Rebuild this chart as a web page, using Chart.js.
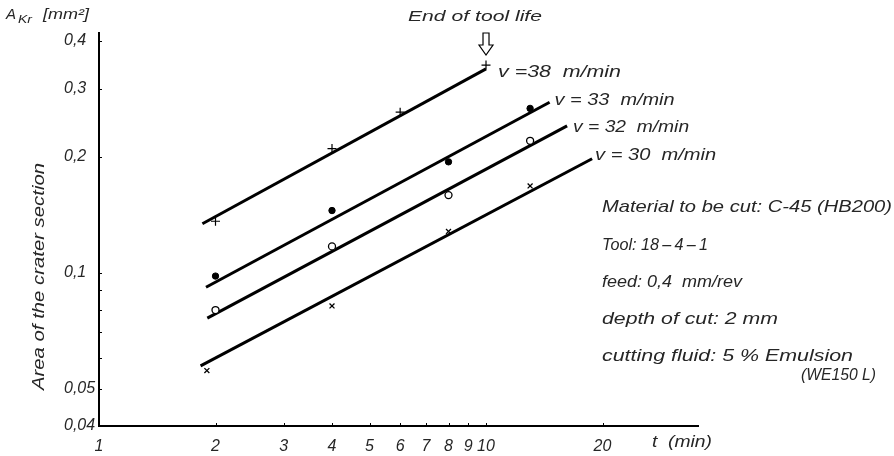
<!DOCTYPE html>
<html>
<head>
<meta charset="utf-8">
<script src="https://cdn.jsdelivr.net/npm/chart.js@4.4.1/dist/chart.umd.min.js"></script>
<style>
html,body{margin:0;padding:0;background:#fff;}
#wrap{width:894px;height:456px;}
</style>
</head>
<body>
<div id="wrap"><canvas id="c" width="894" height="456"></canvas></div>
<script>
// ---- data ----
const seriesLabels = ['v =38  m/min', 'v = 33  m/min', 'v = 32  m/min', 'v = 30  m/min'];
// measured points, t (min) and A_Kr (mm²)
const tPlus = [2, 4, 6, 10];
const aPlus = [0.136, 0.210, 0.261, 0.346];
const tDot = [2, 4, 8, 13];
const aDot = [0.098, 0.145, 0.194, 0.267];
const tCircle = [2, 4, 8, 13];
const aCircle = [0.080, 0.117, 0.159, 0.220];
const tCross = [1.9, 4, 8, 13];
const aCross = [0.0557, 0.082, 0.128, 0.168];
// fitted straight lines (start, end)
const tLine38 = [1.85, 10.0],  aLine38 = [0.134, 0.338];
const tLine33 = [1.89, 14.6],  aLine33 = [0.0917, 0.277];
const tLine32 = [1.905, 16.2], aLine32 = [0.0762, 0.2406];
const tLine30 = [1.83, 18.8],  aLine30 = [0.0573, 0.1976];
// ticks
const xTicks = [1, 2, 3, 4, 5, 6, 7, 8, 9, 10, 20];
const xTickLabels = ['1', '2', '3', '4', '5', '6', '7', '8', '9', '10', '20'];
const yTicks = [0.04, 0.05, 0.06, 0.07, 0.08, 0.09, 0.1, 0.2, 0.3, 0.4];
const yTickLabels = ['0,04', '0,05', '', '', '', '', '0,1', '0,2', '0,3', '0,4'];
const endOfLifeT = 10;
const endOfLifeA = 0.346;
const notes = ['Material to be cut: C-45 (HB200)', 'Tool: 18\u2009–\u20094\u2009–\u20091', 'feed: 0,4  mm/rev', 'depth of cut: 2 mm', 'cutting fluid: 5 % Emulsion', '(WE150 L)'];

const FONT = '"Liberation Sans", Arial, sans-serif';
const INK = '#262626';

function pts(ts, as) { return ts.map((t, i) => ({x: t, y: as[i]})); }

// draw text left-aligned at x, horizontally scaled to a target width
function fitText(ctx, text, x, y, w, font) {
  ctx.font = font;
  const m = ctx.measureText(text).width;
  ctx.save();
  ctx.translate(x, y);
  ctx.scale(w / m, 1);
  ctx.textAlign = 'left';
  ctx.fillText(text, 0, 0);
  ctx.restore();
}

const lineDs = (ts, as) => ({type: 'scatter', data: pts(ts, as), showLine: true, borderColor: '#000', borderWidth: 3, pointRadius: 0, order: 2});

const datasets = [
  lineDs(tLine38, aLine38),
  lineDs(tLine33, aLine33),
  lineDs(tLine32, aLine32),
  lineDs(tLine30, aLine30),
  {type: 'scatter', data: pts(tPlus, aPlus), pointStyle: 'cross', pointRadius: 4.5, borderColor: '#000', borderWidth: 1.2, order: 1},
  {type: 'scatter', data: pts(tDot, aDot), pointStyle: 'circle', pointRadius: 3.2, backgroundColor: '#000', borderColor: '#000', borderWidth: 1, order: 1},
  {type: 'scatter', data: pts(tCircle, aCircle), pointStyle: 'circle', pointRadius: 3.5, backgroundColor: '#fff', borderColor: '#000', borderWidth: 1.3, order: 1},
  {type: 'scatter', data: pts(tCross, aCross), pointStyle: 'crossRot', pointRadius: 3.5, borderColor: '#000', borderWidth: 1.3, order: 1}
];

const annot = {
  id: 'annot',
  afterDraw(chart) {
    const ctx = chart.ctx;
    const xs = chart.scales.x, ys = chart.scales.y;
    const ca = chart.chartArea;
    ctx.save();
    // inside minor tick marks
    ctx.strokeStyle = '#000';
    ctx.lineWidth = 1;
    xTicks.forEach(v => {
      const px = Math.round(xs.getPixelForValue(v)) + 0.5;
      ctx.beginPath(); ctx.moveTo(px, ca.bottom); ctx.lineTo(px, ca.bottom - 3); ctx.stroke();
    });
    yTicks.forEach(v => {
      const py = Math.round(ys.getPixelForValue(v)) + 0.5;
      ctx.beginPath(); ctx.moveTo(ca.left, py); ctx.lineTo(ca.left + 3, py); ctx.stroke();
    });

    ctx.fillStyle = INK;
    ctx.textBaseline = 'middle';
    // line labels at the end of each line
    const ends = [[tLine38, aLine38], [tLine33, aLine33], [tLine32, aLine32], [tLine30, aLine30]];
    const dx = [12, 5, 6, 3];
    const dy = [3, -2, 1, -3];
    const lw = [123, 120, 116, 121];
    ends.forEach((e, i) => {
      const px = xs.getPixelForValue(e[0][1]);
      const py = ys.getPixelForValue(e[1][1]);
      fitText(ctx, seriesLabels[i], px + dx[i], py + dy[i], lw[i], 'italic 17px ' + FONT);
    });

    // End of tool life
    const ex = xs.getPixelForValue(endOfLifeT);
    const ey = ys.getPixelForValue(endOfLifeA);
    fitText(ctx, 'End of tool life', ex - 78, 17, 134, 'italic 15px ' + FONT);
    // hollow arrow
    const ax = ex;
    ctx.lineWidth = 1.2;
    ctx.strokeStyle = '#000';
    ctx.beginPath();
    ctx.moveTo(ax - 3, 33); ctx.lineTo(ax - 3, 45); ctx.lineTo(ax - 7, 45);
    ctx.lineTo(ax, ey - 10); ctx.lineTo(ax + 7, 45); ctx.lineTo(ax + 3, 45);
    ctx.lineTo(ax + 3, 33); ctx.closePath();
    ctx.stroke();

    // notes block
    const noteY = [207, 245, 282, 319, 356];
    const noteW = [290, 106, 140, 176, 251];
    for (let i = 0; i < 5; i++) fitText(ctx, notes[i], 602, noteY[i], noteW[i], 'italic 17px ' + FONT);
    fitText(ctx, notes[5], 801, 376, 75, 'italic 16px ' + FONT);

    // axis titles
    fitText(ctx, 'A', 6, 15, 10, 'italic 15px ' + FONT);
    fitText(ctx, 'Kr', 18, 20, 14, 'italic 11px ' + FONT);
    fitText(ctx, '[mm\u00B2]', 43, 15, 46, 'italic 15px ' + FONT);

    fitText(ctx, 't  (min)', 652, 443, 60, 'italic 16px ' + FONT);

    ctx.translate(39, 390);
    ctx.rotate(-Math.PI / 2);
    fitText(ctx, 'Area of the crater section', 0, 0, 227, 'italic 17px ' + FONT);
    ctx.restore();
  }
};

new Chart(document.getElementById('c'), {
  type: 'scatter',
  data: {datasets},
  options: {
    responsive: false,
    animation: false,
    events: [],
    layout: {padding: {left: 64, top: 33, right: 196, bottom: 0}},
    plugins: {legend: {display: false}, tooltip: {enabled: false}},
    scales: {
      x: {
        type: 'logarithmic',
        min: 1, max: 35.3,
        afterFit(s) { s.height = 30; },
        afterBuildTicks(s) { s.ticks = xTicks.map(v => ({value: v})); },
        grid: {display: false},
        border: {display: true, color: '#000', width: 2},
        ticks: {
          autoSkip: false, maxRotation: 0, padding: 3,
          color: INK, font: {family: FONT, size: 16, style: 'italic'},
          callback(v) { const i = xTicks.indexOf(v); return i >= 0 ? xTickLabels[i] : ''; }
        }
      },
      y: {
        type: 'logarithmic',
        min: 0.04, max: 0.419,
        afterFit(s) { s.width = 35; },
        afterBuildTicks(s) { s.ticks = yTicks.map(v => ({value: v})); },
        grid: {display: false},
        border: {display: true, color: '#000', width: 2},
        ticks: {
          autoSkip: false, padding: 4, crossAlign: 'far',
          color: INK, font: {family: FONT, size: 16, style: 'italic'},
          callback(v) { const i = yTicks.indexOf(v); return i >= 0 ? yTickLabels[i] : ''; }
        }
      }
    }
  },
  plugins: [annot]
});
</script>
</body>
</html>
